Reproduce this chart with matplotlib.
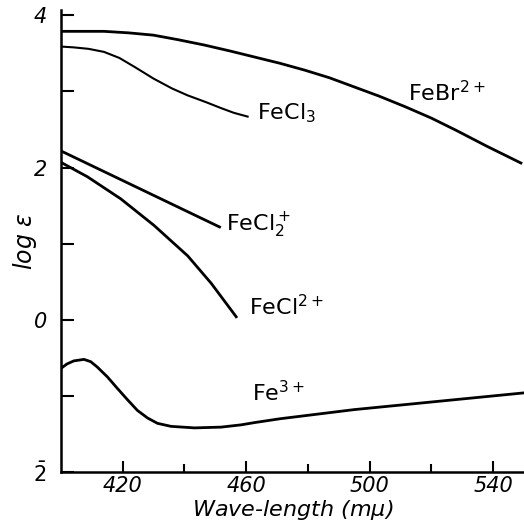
import numpy as np
import matplotlib.pyplot as plt

# wavelengths (m-mu) and log(epsilon) values
febr_x = [400, 407, 414, 422, 430, 438, 446.5, 455, 463, 471, 479, 487, 495, 503, 511.5, 520, 528, 538, 549]
febr_y = [3.79, 3.79, 3.79, 3.77, 3.74, 3.68, 3.61, 3.53, 3.45, 3.37, 3.28, 3.18, 3.06, 2.94,
          2.80, 2.65, 2.49, 2.28, 2.06]

fecl3_x = [400, 404, 409, 414, 419, 424, 430, 436, 441, 447, 452, 456, 460.5]
fecl3_y = [3.59, 3.58, 3.56, 3.52, 3.44, 3.32, 3.17, 3.04, 2.95, 2.86, 2.78, 2.72, 2.67]

fecl2p_x = [400, 451.4]
fecl2p_y = [2.22, 1.22]

fecl2pp_x = [400, 408.6, 419.4, 430.2, 441.1, 448.7, 456.8]
fecl2pp_y = [2.07, 1.88, 1.59, 1.24, 0.84, 0.48, 0.04]

fe3_x = [400, 402, 404.2, 407.5, 409.7, 411.8, 415.1, 418.3, 421.6, 424.8, 428.1, 431.3,
         435.7, 443.3, 451.9, 458.4, 462.8, 471, 483, 495, 510, 530, 550]
fe3_y = [-0.64, -0.58, -0.54, -0.52, -0.55, -0.62, -0.75, -0.90, -1.05, -1.19, -1.29, -1.36,
         -1.40, -1.42, -1.41, -1.38, -1.35, -1.30, -1.24, -1.18, -1.12, -1.04, -0.96]

fig = plt.figure(figsize=(5.24, 5.28), dpi=100)
ax = fig.add_axes([0.116, 0.106, 0.884, 0.875])

ax.plot(febr_x, febr_y, color='black', lw=2.0)
ax.plot(fecl3_x, fecl3_y, color='black', lw=1.5)
ax.plot(fecl2p_x, fecl2p_y, color='black', lw=2.0)
ax.plot(fecl2pp_x, fecl2pp_y, color='black', lw=2.0)
ax.plot(fe3_x, fe3_y, color='black', lw=2.0)

ax.text(512.5, 2.99, r'FeBr$^{2+}$', fontsize=16, va='center')
ax.text(463.5, 2.71, r'FeCl$_3$', fontsize=16, va='center')
ax.text(453.5, 1.24, r'FeCl$_2^+$', fontsize=16, va='center')
ax.text(461, 0.17, r'FeCl$^{2+}$', fontsize=16, va='center')
ax.text(462, -0.95, r'Fe$^{3+}$', fontsize=16, va='center')

ax.set_xlim(400, 550)
ax.set_ylim(-2, 4.07)
ax.spines['top'].set_visible(False)
ax.spines['right'].set_visible(False)
ax.spines['left'].set_linewidth(1.8)
ax.spines['bottom'].set_linewidth(1.8)

ax.set_xticks([420, 460, 500, 540])
ax.set_xticks([440, 480, 520], minor=True)
ax.set_xticklabels(['420', '460', '500', '540'], fontsize=15, fontstyle='italic')
ax.set_yticks([4, 2, 0, -2])
ax.set_yticks([3, 1, -1], minor=True)
ax.set_yticklabels(['4', '2', '0', r'$\bar{\mathit{2}}$'], fontsize=15, fontstyle='italic')
ax.tick_params(axis='x', which='major', direction='in', length=8, width=1.5, pad=3)
ax.tick_params(axis='x', which='minor', direction='in', length=6, width=1.5)
ax.tick_params(axis='y', which='both', direction='in', length=9, width=1.5, pad=10)

ax.set_xlabel(r'Wave-length (m$\mu$)', fontsize=16, fontstyle='italic', labelpad=1)
ax.set_ylabel(r'log $\epsilon$', fontsize=17, fontstyle='italic', labelpad=-4)

fig.savefig('out.png', dpi=100)
